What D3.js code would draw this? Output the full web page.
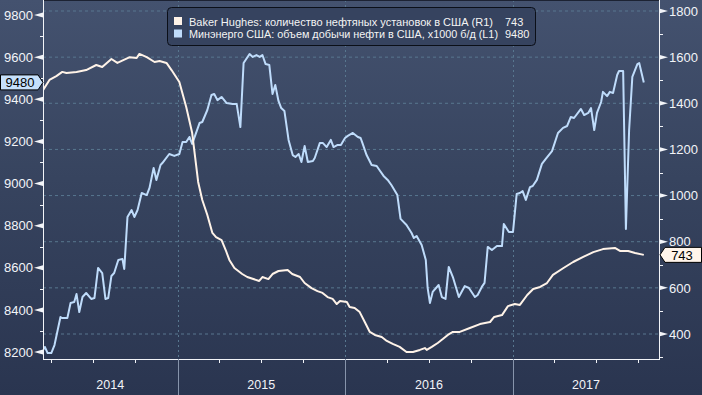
<!DOCTYPE html>
<html>
<head>
<meta charset="utf-8">
<script src="https://cdn.jsdelivr.net/npm/d3@7"></script>
<style>
  html, body { margin: 0; padding: 0; background: #2e3a56; }
  svg { display: block; font-family: "Liberation Sans", Arial, sans-serif; }
</style>
</head>
<body>
<div id="chart"></div>
<script>
"use strict";

/* ── Data: EIA weekly crude output (L1) ── */
const prodDates = [
  "2014-03-14","2014-03-18","2014-03-24","2014-04-01","2014-04-08","2014-04-21","2014-04-25","2014-05-06",
  "2014-05-13","2014-05-21","2014-05-26","2014-06-01","2014-06-08","2014-06-16","2014-06-27","2014-07-04",
  "2014-07-12","2014-07-21","2014-07-28","2014-08-03","2014-08-10","2014-08-16","2014-08-25","2014-09-03",
  "2014-09-07","2014-09-14","2014-09-23","2014-09-29","2014-10-06","2014-10-15","2014-10-26","2014-11-01",
  "2014-11-10","2014-11-16","2014-11-25","2014-11-29","2014-12-14","2014-12-25","2015-01-05","2015-01-12",
  "2015-01-20","2015-01-27","2015-02-02","2015-02-18","2015-02-24","2015-03-07","2015-03-16","2015-03-22",
  "2015-03-29","2015-04-07","2015-04-18","2015-05-01","2015-05-10","2015-05-18","2015-05-25","2015-06-07",
  "2015-06-14","2015-06-22","2015-06-29","2015-07-05","2015-07-12","2015-07-20","2015-07-27","2015-08-02",
  "2015-08-09","2015-08-15","2015-08-22","2015-08-31","2015-09-09","2015-09-15","2015-09-22","2015-09-28",
  "2015-10-05","2015-10-12","2015-10-23","2015-10-27","2015-11-07","2015-11-14","2015-11-22","2015-12-01",
  "2015-12-07","2015-12-16","2015-12-23","2016-01-01","2016-01-07","2016-01-18","2016-01-29","2016-02-04",
  "2016-02-08","2016-02-17","2016-02-28","2016-03-10","2016-03-16","2016-03-25","2016-04-03","2016-04-11",
  "2016-04-24","2016-05-01","2016-05-14","2016-05-25","2016-05-30","2016-06-05","2016-06-16","2016-06-25",
  "2016-06-29","2016-07-04","2016-07-10","2016-07-23","2016-07-30","2016-08-07","2016-08-14","2016-08-23",
  "2016-09-05","2016-09-18","2016-09-27","2016-10-10","2016-10-16","2016-10-25","2016-10-31","2016-11-07",
  "2016-11-16","2016-11-27","2016-12-08","2016-12-12","2016-12-23","2017-01-01","2017-01-09","2017-01-16",
  "2017-01-22","2017-01-29","2017-02-07","2017-02-13","2017-02-22","2017-03-05","2017-03-13","2017-03-27",
  "2017-04-09","2017-04-20","2017-04-29","2017-05-07","2017-05-14","2017-05-29","2017-06-05","2017-06-14",
  "2017-06-20","2017-06-27","2017-07-03","2017-07-12","2017-07-16","2017-07-25","2017-07-31","2017-08-07",
  "2017-08-16","2017-08-20","2017-08-29","2017-09-04","2017-09-11","2017-09-18","2017-09-29","2017-10-03",
  "2017-10-13"
];
const prodValues = [
  8210,8224,8195,8195,8233,8366,8361,8361,
  8433,8437,8475,8390,8461,8480,8452,8456,
  8599,8575,8452,8456,8561,8575,8637,8642,
  8594,8841,8874,8841,8874,8955,8945,8979,
  9074,9017,9088,9097,9140,9131,9140,9197,
  9197,9221,9188,9287,9292,9349,9420,9425,
  9396,9411,9382,9377,9377,9268,9572,9615,
  9601,9610,9601,9610,9567,9563,9425,9468,
  9392,9358,9344,9207,9135,9126,9140,9102,
  9178,9102,9107,9121,9192,9192,9173,9207,
  9173,9183,9183,9216,9226,9240,9221,9216,
  9192,9135,9088,9083,9064,9036,9017,8993,
  8945,8832,8803,8765,8741,8751,8708,8637,
  8504,8433,8485,8518,8461,8452,8604,8556,
  8461,8513,8504,8461,8471,8509,8528,8699,
  8684,8703,8703,8808,8770,8770,8950,8955,
  8964,8922,8983,8988,9017,9093,9116,9154,
  9240,9264,9273,9316,9311,9354,9325,9335,
  9358,9254,9335,9387,9435,9415,9435,9430,
  9515,9534,9534,8784,9254,9506,9567,9572,
  9480
];

/* ── Data: Baker Hughes oil rig count (R1) ── */
const rigDates = [
  "2014-03-14","2014-03-28","2014-04-12","2014-04-25","2014-05-04","2014-05-26","2014-06-16","2014-07-08",
  "2014-07-21","2014-08-10","2014-08-23","2014-09-19","2014-10-04","2014-10-10","2014-10-26","2014-11-12",
  "2014-11-23","2014-12-08","2014-12-19","2015-01-05","2015-01-20","2015-02-02","2015-02-15","2015-02-24",
  "2015-03-07","2015-03-18","2015-03-26","2015-04-07","2015-04-16","2015-04-24","2015-05-05","2015-05-22",
  "2015-06-02","2015-06-28","2015-07-05","2015-07-18","2015-07-27","2015-08-09","2015-08-29","2015-09-08",
  "2015-09-25","2015-10-05","2015-10-20","2015-11-02","2015-11-13","2015-11-24","2015-12-05","2015-12-14",
  "2015-12-21","2016-01-05","2016-01-11","2016-01-22","2016-02-02","2016-02-13","2016-02-24","2016-03-06",
  "2016-03-21","2016-04-01","2016-04-14","2016-04-29","2016-05-14","2016-05-28","2016-06-12","2016-06-23",
  "2016-06-27","2016-07-08","2016-07-21","2016-08-01","2016-08-12","2016-08-23","2016-09-07","2016-09-29",
  "2016-10-21","2016-11-12","2016-11-21","2016-12-08","2016-12-21","2017-01-05","2017-01-16","2017-02-01",
  "2017-02-14","2017-03-01","2017-03-16","2017-03-29","2017-04-21","2017-05-12","2017-06-03","2017-06-25",
  "2017-07-16","2017-08-11","2017-08-22","2017-09-09","2017-09-24","2017-10-13"
];
const rigValues = [
  1457,1501,1518,1536,1531,1536,1544,1566,
  1557,1592,1575,1600,1596,1614,1600,1579,
  1583,1575,1544,1492,1384,1271,1059,981,
  916,838,820,807,764,721,686,660,
  647,630,647,638,660,673,677,660,
  647,621,599,586,578,560,552,530,
  543,539,517,513,495,452,409,396,
  387,370,357,344,322,322,331,339,
  331,344,361,378,396,409,409,426,
  443,452,474,482,521,530,526,569,
  595,604,621,656,686,712,734,755,
  768,773,760,760,751,743
];

/* ── Axis ticks, legend text ── */
const leftTicks  = [8200, 8400, 8600, 8800, 9000, 9200, 9400, 9600, 9800];
const leftMinor  = [8300, 8500, 8700, 8900, 9100, 9300, 9500, 9700];
const rightTicks = [400, 600, 800, 1000, 1200, 1400, 1600, 1800];
const rightMinor = [300, 500, 700, 900, 1100, 1300, 1500, 1700];
const yearLabels = ["2014", "2015", "2016", "2017"];
const legendItems = [
  { label: "Baker Hughes: количество нефтяных установок в США (R1)", value: "743",  colour: "#fff3e8" },
  { label: "Минэнерго США: объем добычи нефти в США, x1000 б/д (L1)", value: "9480", colour: "#bfdcfb" }
];

function renderChart() {
  const W = 702, H = 395;
  const plot = { left: 43, right: 659, top: 0, bottom: 359 };

  const svg = d3.select("#chart").append("svg")
    .attr("width", W).attr("height", H);

  /* ── Background gradient ── */
  const defs = svg.append("defs");
  const grad = defs.append("linearGradient").attr("id", "bg")
    .attr("x1", 0).attr("y1", 0).attr("x2", 0).attr("y2", 1);
  grad.append("stop").attr("offset", "0%").attr("stop-color", "#44526f");
  grad.append("stop").attr("offset", "45%").attr("stop-color", "#37445f");
  grad.append("stop").attr("offset", "100%").attr("stop-color", "#2a3550");
  svg.append("rect").attr("width", W).attr("height", H).attr("fill", "url(#bg)");

  defs.append("clipPath").attr("id", "plot-clip")
    .append("rect")
    .attr("x", plot.left).attr("y", plot.top)
    .attr("width", plot.right - plot.left).attr("height", plot.bottom - plot.top);

  /* ── Scales ── */
  const parse = d3.utcParse("%Y-%m-%d");
  const x = d3.scaleUtc()
    .domain([parse("2015-01-01"), parse("2017-01-01")])
    .range([177.5, 513]);
  const yL = d3.scaleLinear().domain([8200, 9800]).range([352, 15]);
  const yR = d3.scaleLinear().domain([400, 1800]).range([334, 11]);

  const xStart = x.invert(plot.left), xEnd = x.invert(plot.right);

  /* ── Gridlines ── */
  const gridCol = "#58778f";
  svg.append("g").selectAll("line")
    .data(rightTicks)
    .join("line")
    .attr("x1", plot.left).attr("x2", plot.right)
    .attr("y1", d => yR(d)).attr("y2", d => yR(d))
    .attr("stroke", gridCol).attr("stroke-width", 1)
    .attr("stroke-dasharray", "3,3");

  const yearStarts = d3.utcYear.range(d3.utcYear.ceil(xStart), xEnd);
  svg.append("g").selectAll("line")
    .data(yearStarts)
    .join("line")
    .attr("x1", d => Math.round(x(d)) + 0.5).attr("x2", d => Math.round(x(d)) + 0.5)
    .attr("y1", plot.top).attr("y2", plot.bottom)
    .attr("stroke", gridCol).attr("stroke-width", 1)
    .attr("stroke-dasharray", "2,3");

  /* ── Lines ── */
  const prod = prodDates.map((d, i) => ({ date: parse(d), value: prodValues[i] }));
  const rigs = rigDates.map((d, i) => ({ date: parse(d), value: rigValues[i] }));

  const chartArea = svg.append("g").attr("clip-path", "url(#plot-clip)");

  chartArea.append("path")
    .datum(prod)
    .attr("fill", "none")
    .attr("stroke", legendItems[1].colour)
    .attr("stroke-width", 2)
    .attr("stroke-linejoin", "round")
    .attr("d", d3.line().x(d => x(d.date)).y(d => yL(d.value)));

  chartArea.append("path")
    .datum(rigs)
    .attr("fill", "none")
    .attr("stroke", legendItems[0].colour)
    .attr("stroke-width", 2)
    .attr("stroke-linejoin", "round")
    .attr("d", d3.line().x(d => x(d.date)).y(d => yR(d.value)));

  /* ── Top edge ── */
  svg.append("line")
    .attr("x1", plot.left).attr("x2", plot.right).attr("y1", 0.5).attr("y2", 0.5)
    .attr("stroke", "#1c2233").attr("stroke-width", 1);

  /* ── Left axis ── */
  const axisCol = "#f2f4f8";
  const leftAxis = svg.append("g");
  leftAxis.append("line")
    .attr("x1", plot.left + 0.5).attr("x2", plot.left + 0.5)
    .attr("y1", 0).attr("y2", plot.bottom)
    .attr("stroke", axisCol);
  leftAxis.selectAll(".minor")
    .data(leftMinor)
    .join("line")
    .attr("x1", plot.left - 3).attr("x2", plot.left)
    .attr("y1", d => Math.round(yL(d)) + 0.5).attr("y2", d => Math.round(yL(d)) + 0.5)
    .attr("stroke", axisCol);
  leftAxis.selectAll(".mark")
    .data(leftTicks)
    .join("path")
    .attr("d", d => `M${plot.left},${yL(d) - 2.5}L${plot.left - 9},${yL(d)}L${plot.left},${yL(d) + 2.5}Z`)
    .attr("fill", axisCol);
  leftAxis.selectAll("text")
    .data(leftTicks)
    .join("text")
    .attr("x", plot.left - 10).attr("y", d => yL(d))
    .attr("dy", "0.36em")
    .attr("text-anchor", "end")
    .attr("fill", axisCol).attr("font-size", "13px")
    .text(d => d);

  /* ── Right axis ── */
  const rightAxis = svg.append("g");
  rightAxis.append("line")
    .attr("x1", plot.right + 0.5).attr("x2", plot.right + 0.5)
    .attr("y1", 0).attr("y2", plot.bottom)
    .attr("stroke", axisCol);
  rightAxis.selectAll(".minor")
    .data(rightMinor)
    .join("line")
    .attr("x1", plot.right).attr("x2", plot.right + 4)
    .attr("y1", d => Math.round(yR(d)) + 0.5).attr("y2", d => Math.round(yR(d)) + 0.5)
    .attr("stroke", axisCol);
  rightAxis.selectAll(".mark")
    .data(rightTicks)
    .join("path")
    .attr("d", d => `M${plot.right},${yR(d) - 2.5}L${plot.right + 9},${yR(d)}L${plot.right},${yR(d) + 2.5}Z`)
    .attr("fill", axisCol);
  rightAxis.selectAll("text")
    .data(rightTicks)
    .join("text")
    .attr("x", plot.right + 10).attr("y", d => yR(d))
    .attr("dy", "0.36em")
    .attr("fill", axisCol).attr("font-size", "13px")
    .text(d => d);

  /* ── Bottom axis ── */
  const bottom = svg.append("g");
  bottom.append("line")
    .attr("x1", plot.left).attr("x2", plot.right + 1)
    .attr("y1", plot.bottom + 0.5).attr("y2", plot.bottom + 0.5)
    .attr("stroke", axisCol);
  bottom.selectAll(".q")
    .data(d3.utcMonth.every(3).range(xStart, xEnd).filter(d => d.getUTCMonth() !== 0))
    .join("line")
    .attr("x1", d => Math.round(x(d)) + 0.5).attr("x2", d => Math.round(x(d)) + 0.5)
    .attr("y1", plot.bottom).attr("y2", plot.bottom + 4)
    .attr("stroke", axisCol);
  bottom.selectAll(".sep")
    .data(yearStarts)
    .join("line")
    .attr("x1", d => Math.round(x(d)) + 0.5).attr("x2", d => Math.round(x(d)) + 0.5)
    .attr("y1", plot.bottom).attr("y2", H)
    .attr("stroke", "#8794ab");

  bottom.selectAll("text")
    .data(yearLabels)
    .join("text")
    .attr("x", d => {
      const a = Math.max(x(parse(d + "-01-01")), plot.left);
      const b = Math.min(x(parse((+d + 1) + "-01-01")), plot.right);
      return (a + b) / 2;
    })
    .attr("y", 389)
    .attr("text-anchor", "middle")
    .attr("fill", axisCol).attr("font-size", "12.5px")
    .text(d => d);

  /* ── Last-value tags ── */
  const lastProd = prod[prod.length - 1].value;
  const yp = yL(lastProd);
  svg.append("path")
    .attr("d", `M0.5,${yp - 7.5}H38L43,${yp}L38,${yp + 7.5}H0.5Z`)
    .attr("fill", "#c6e0fb").attr("stroke", "#000").attr("stroke-width", 1);
  svg.append("text")
    .attr("x", 20).attr("y", yp).attr("dy", "0.36em")
    .attr("text-anchor", "middle")
    .attr("fill", "#000").attr("font-size", "13px")
    .text(lastProd);

  const lastRig = rigs[rigs.length - 1].value;
  const yr = yR(lastRig);
  svg.append("path")
    .attr("d", `M${plot.right + 1},${yr}L${plot.right + 6},${yr - 7.5}H701.5V${yr + 7.5}H${plot.right + 6}Z`)
    .attr("fill", "#fff4ea").attr("stroke", "#000").attr("stroke-width", 1);
  svg.append("text")
    .attr("x", 682).attr("y", yr).attr("dy", "0.36em")
    .attr("text-anchor", "middle")
    .attr("fill", "#000").attr("font-size", "13px")
    .text(lastRig);

  /* ── Legend ── */
  const legendG = svg.append("g");
  legendG.append("rect")
    .attr("x", 167.5).attr("y", 7.5).attr("width", 368).attr("height", 38).attr("rx", 4)
    .attr("fill", "#36435f").attr("stroke", "#0b0f18").attr("stroke-width", 1);
  const labelWidths = [304, 309];
  legendItems.forEach((item, i) => {
    const g = legendG.append("g").attr("transform", `translate(174, ${17 + i * 12.5})`);
    g.append("rect").attr("width", 8).attr("height", 8).attr("fill", item.colour);
    g.append("text").attr("x", 15).attr("y", 8.5)
      .attr("fill", "#f4f4f4").attr("font-size", "10.5px")
      .attr("textLength", labelWidths[i]).attr("lengthAdjust", "spacingAndGlyphs")
      .text(item.label);
    g.append("text").attr("x", 331).attr("y", 8.5)
      .attr("fill", "#f4f4f4").attr("font-size", "11px").text(item.value);
  });
}

renderChart();
</script>
</body>
</html>
